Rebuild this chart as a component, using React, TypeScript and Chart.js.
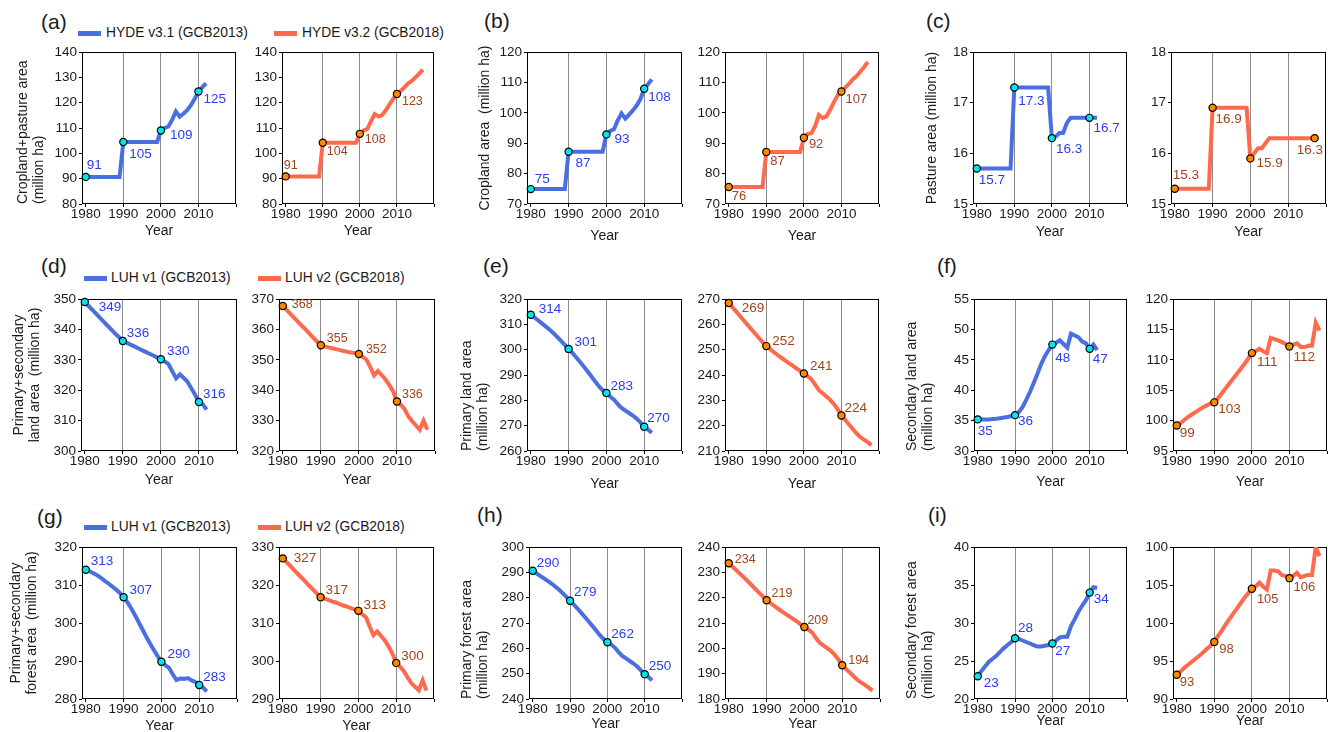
import { useEffect, useRef } from "react";
import { Chart, registerables } from "chart.js";

Chart.register(...registerables);

const FONT = "'Liberation Sans', Arial, Helvetica, sans-serif";

// ---------- categories ----------
const YEARS_GCB2013 = [
  1980, 1981, 1982, 1983, 1984, 1985, 1986, 1987, 1988, 1989,
  1990, 1991, 1992, 1993, 1994, 1995, 1996, 1997, 1998, 1999,
  2000, 2001, 2002, 2003, 2004, 2005, 2006, 2007, 2008, 2009,
  2010, 2011, 2012,
];
const YEARS_HYDE32 = [
  1980, 1981, 1982, 1983, 1984, 1985, 1986, 1987, 1988, 1989,
  1990, 1991, 1992, 1993, 1994, 1995, 1996, 1997, 1998, 1999,
  2000, 2001, 2002, 2003, 2004, 2005, 2006, 2007, 2008, 2009,
  2010, 2011, 2012, 2013, 2014, 2015, 2016, 2017,
];
const YEARS_LUH2 = [
  1980, 1981, 1982, 1983, 1984, 1985, 1986, 1987, 1988, 1989,
  1990, 1991, 1992, 1993, 1994, 1995, 1996, 1997, 1998, 1999,
  2000, 2001, 2002, 2003, 2004, 2005, 2006, 2007, 2008, 2009,
  2010, 2011, 2012, 2013, 2014, 2015, 2016, 2017, 2018,
];

const X_MIN = 1979;
const X_MAX = 2020;
const X_TICKS = [1980, 1990, 2000, 2010, 2020];
const X_TICK_LABELS = ["1980", "1990", "2000", "2010", ""];
const GRID_YEARS = [1990, 2000, 2010];
const DECADE_MARKS = [1980, 1990, 2000, 2010];
const C_HYDE32_MARKS = [1980, 1990, 2000, 2017];

const LEGEND_HYDE = ["HYDE v3.1 (GCB2013)", "HYDE v3.2 (GCB2018)"];
const LEGEND_LUH = ["LUH v1 (GCB2013)", "LUH v2 (GCB2018)"];

// ---------- (a) cropland + pasture ----------
const A_HYDE31 = [
  90.7, 90.7, 90.7, 90.7, 90.7, 90.7, 90.7, 90.7, 90.7, 90.7,
  104.5, 104.5, 104.5, 104.5, 104.5, 104.5, 104.5, 104.5, 104.5, 104.5,
  109.0, 110.0, 110.6, 113.2, 116.5, 114.5, 115.6, 117.0, 119.0, 121.5,
  124.4, 126.0, 127.6,
];
const A_HYDE32 = [
  90.9, 90.9, 90.9, 90.9, 90.9, 90.9, 90.9, 90.9, 90.9, 90.9,
  104.2, 104.2, 104.2, 104.2, 104.2, 104.2, 104.2, 104.2, 104.2, 104.2,
  107.7, 109.0, 109.6, 112.6, 115.5, 114.6, 115.1, 117.0, 119.3, 121.5,
  123.4, 124.6, 126.0, 127.6, 128.6, 130.0, 131.5, 133.0,
];
const A_HYDE31_LABELS = ["91", "105", "109", "125"];
const A_HYDE32_LABELS = ["91", "104", "108", "123"];
const A_Y_TICKS = [80, 90, 100, 110, 120, 130, 140];

// ---------- (b) cropland ----------
const B_HYDE31 = [
  74.9, 74.9, 74.9, 74.9, 74.9, 74.9, 74.9, 74.9, 74.9, 74.9,
  87.2, 87.2, 87.2, 87.2, 87.2, 87.2, 87.2, 87.2, 87.2, 87.2,
  92.9, 94.0, 94.6, 97.5, 99.8, 98.1, 99.4, 100.8, 102.4, 104.5,
  107.9, 109.4, 111.0,
];
const B_HYDE32 = [
  75.6, 75.6, 75.6, 75.6, 75.6, 75.6, 75.6, 75.6, 75.6, 75.6,
  87.1, 87.1, 87.1, 87.1, 87.1, 87.1, 87.1, 87.1, 87.1, 87.1,
  91.8, 93.0, 93.3, 95.6, 99.3, 98.3, 98.8, 101.0, 103.5, 105.8,
  107.0, 108.3, 109.5, 111.0, 112.0, 113.5, 115.0, 116.7,
];
const B_HYDE31_LABELS = ["75", "87", "93", "108"];
const B_HYDE32_LABELS = ["76", "87", "92", "107"];
const B_Y_TICKS = [70, 80, 90, 100, 110, 120];

// ---------- (c) pasture ----------
const C_HYDE31 = [
  15.7, 15.7, 15.7, 15.7, 15.7, 15.7, 15.7, 15.7, 15.7, 15.7,
  17.3, 17.3, 17.3, 17.3, 17.3, 17.3, 17.3, 17.3, 17.3, 17.3,
  16.3, 16.33, 16.4, 16.4, 16.6, 16.7, 16.7, 16.7, 16.7, 16.7,
  16.7, 16.7, 16.7,
];
const C_HYDE32 = [
  15.3, 15.3, 15.3, 15.3, 15.3, 15.3, 15.3, 15.3, 15.3, 15.3,
  16.9, 16.9, 16.9, 16.9, 16.9, 16.9, 16.9, 16.9, 16.9, 16.9,
  15.9, 16.0, 16.1, 16.1, 16.2, 16.3, 16.3, 16.3, 16.3, 16.3,
  16.3, 16.3, 16.3, 16.3, 16.3, 16.3, 16.3, 16.3,
];
const C_HYDE31_LABELS = ["15.7", "17.3", "16.3", "16.7"];
const C_HYDE32_LABELS = ["15.3", "16.9", "15.9", "16.3"];
const C_Y_TICKS = [15, 16, 17, 18];

// ---------- (d) primary + secondary land ----------
const D_LUH1 = [
  349.0, 347.7, 346.4, 345.1, 343.8, 342.5, 341.2, 339.9, 338.6, 337.4,
  336.2, 335.6, 335.0, 334.4, 333.8, 333.2, 332.6, 332.0, 331.4, 330.8,
  330.2, 329.5, 328.6, 326.2, 323.9, 325.2, 324.0, 322.8, 320.6, 318.5,
  316.1, 315.4, 313.6,
];
const D_LUH2 = [
  367.7, 366.4, 365.1, 363.8, 362.5, 361.2, 359.9, 358.6, 357.3, 356.0,
  354.8, 354.4, 354.1, 353.8, 353.5, 353.2, 352.9, 352.6, 352.4, 352.2,
  351.9, 351.0, 350.0, 347.6, 344.9, 346.3, 345.0, 343.5, 341.7, 339.6,
  336.3, 335.2, 333.8, 331.4, 329.8, 328.4, 327.0, 330.0, 327.0,
];
const D_LUH1_LABELS = ["349", "336", "330", "316"];
const D_LUH2_LABELS = ["368", "355", "352", "336"];
const D_LUH1_Y_TICKS = [300, 310, 320, 330, 340, 350];
const D_LUH2_Y_TICKS = [320, 330, 340, 350, 360, 370];

// ---------- (e) primary land ----------
const E_LUH1 = [
  313.8, 312.7, 311.5, 310.3, 309.1, 307.9, 306.5, 305.0, 303.5, 301.9,
  300.3, 298.7, 297.0, 295.2, 293.4, 291.5, 289.5, 287.5, 285.6, 284.0,
  282.9, 281.5, 280.3, 278.5, 277.0, 276.0, 275.0, 274.0, 272.8, 271.3,
  269.6, 268.5, 267.2,
];
const E_LUH2 = [
  268.4, 266.7, 265.0, 263.3, 261.5, 259.8, 258.1, 256.4, 254.7, 253.0,
  251.4, 250.2, 249.0, 247.9, 246.8, 245.8, 244.7, 243.7, 242.6, 241.6,
  240.6, 239.6, 238.3, 236.2, 234.0, 232.8, 231.5, 230.2, 228.5, 226.5,
  224.0, 222.3, 220.5, 218.7, 217.0, 215.5, 214.5, 213.5, 212.3,
];
const E_LUH1_LABELS = ["314", "301", "283", "270"];
const E_LUH2_LABELS = ["269", "252", "241", "224"];
const E_LUH1_Y_TICKS = [260, 270, 280, 290, 300, 310, 320];
const E_LUH2_Y_TICKS = [210, 220, 230, 240, 250, 260, 270];

// ---------- (f) secondary land ----------
const F_LUH1 = [
  35.2, 35.2, 35.2, 35.2, 35.25, 35.3, 35.4, 35.5, 35.6, 35.75,
  35.9, 36.4, 37.2, 38.4, 39.7, 41.2, 42.7, 44.3, 45.6, 46.6,
  47.5, 47.8, 48.2, 47.6, 47.0, 49.3, 49.0, 48.7, 48.0, 47.7,
  46.8, 47.5, 46.6,
];
const F_LUH2 = [
  99.2, 99.6, 100.1, 100.6, 101.0, 101.4, 101.8, 102.2, 102.5, 102.8,
  103.0, 103.7, 104.5, 105.3, 106.1, 106.9, 107.7, 108.5, 109.3, 110.2,
  111.1, 111.4, 111.8, 111.4, 111.1, 113.6, 113.4, 113.2, 112.9, 112.6,
  112.2, 112.5, 112.7, 112.1, 112.1, 112.3, 112.3, 116.1, 114.8,
];
const F_LUH1_LABELS = ["35", "36", "48", "47"];
const F_LUH2_LABELS = ["99", "103", "111", "112"];
const F_LUH1_Y_TICKS = [30, 35, 40, 45, 50, 55];
const F_LUH2_Y_TICKS = [95, 100, 105, 110, 115, 120];

// ---------- (g) primary + secondary forest ----------
const G_LUH1 = [
  314.0, 313.6, 313.1, 312.6, 311.9, 311.1, 310.4, 309.6, 308.8, 307.9,
  306.8, 305.5, 303.9, 302.1, 300.2, 298.3, 296.4, 294.6, 292.9, 291.3,
  289.8, 288.9, 288.2, 286.5, 285.0, 285.4, 285.3, 285.5, 284.9, 284.5,
  283.7, 283.0, 282.0,
];
const G_LUH2 = [
  327.0, 326.0, 325.0, 323.9, 322.9, 321.9, 320.9, 319.8, 318.8, 317.8,
  316.8, 316.4, 316.1, 315.7, 315.4, 315.0, 314.6, 314.3, 313.9, 313.6,
  313.2, 312.3, 311.5, 309.0, 306.8, 307.8, 306.6, 305.4, 303.8, 301.9,
  299.5, 298.5, 297.4, 295.7, 294.2, 293.2, 292.3, 294.9, 292.2,
];
const G_LUH1_LABELS = ["313", "307", "290", "283"];
const G_LUH2_LABELS = ["327", "317", "313", "300"];
const G_LUH1_Y_TICKS = [280, 290, 300, 310, 320];
const G_LUH2_Y_TICKS = [290, 300, 310, 320, 330];

// ---------- (h) primary forest ----------
const H_LUH1 = [
  290.6, 289.6, 288.6, 287.6, 286.6, 285.6, 284.4, 283.2, 281.8, 280.3,
  278.8, 277.3, 275.7, 274.0, 272.3, 270.6, 268.8, 267.0, 265.2, 263.6,
  262.4, 261.5, 260.3, 258.5, 257.0, 256.0, 255.0, 254.0, 252.8, 251.3,
  249.8, 248.7, 247.4,
];
const H_LUH2 = [
  233.6, 232.2, 230.8, 229.4, 228.0, 226.5, 225.0, 223.5, 222.0, 220.5,
  219.0, 217.9, 216.8, 215.7, 214.6, 213.6, 212.6, 211.6, 210.6, 209.5,
  208.4, 207.5, 206.3, 204.2, 202.3, 201.2, 200.1, 199.0, 197.5, 195.6,
  193.3, 191.8, 190.5, 189.0, 187.6, 186.5, 185.6, 184.5, 183.3,
];
const H_LUH1_LABELS = ["290", "279", "262", "250"];
const H_LUH2_LABELS = ["234", "219", "209", "194"];
const H_LUH1_Y_TICKS = [240, 250, 260, 270, 280, 290, 300];
const H_LUH2_Y_TICKS = [180, 190, 200, 210, 220, 230, 240];

// ---------- (i) secondary forest ----------
const I_LUH1 = [
  23.0, 23.7, 24.3, 24.9, 25.3, 25.7, 26.2, 26.7, 27.1, 27.5,
  28.0, 27.9, 27.7, 27.5, 27.3, 27.1, 26.9, 26.9, 27.0, 27.1,
  27.3, 27.7, 28.1, 28.2, 28.2, 29.6, 30.5, 31.5, 32.3, 33.0,
  34.0, 34.7, 34.6,
];
const I_LUH2 = [
  93.2, 93.6, 94.1, 94.5, 94.9, 95.3, 95.7, 96.1, 96.6, 97.0,
  97.5, 98.3, 99.0, 99.8, 100.5, 101.2, 101.9, 102.6, 103.3, 103.9,
  104.5, 104.8, 105.3, 104.8, 104.4, 106.9, 106.9, 106.8, 106.3, 106.2,
  105.9, 106.2, 106.6, 106.0, 106.2, 106.3, 106.3, 110.0, 108.8,
];
const I_LUH1_LABELS = ["23", "28", "27", "34"];
const I_LUH2_LABELS = ["93", "98", "105", "106"];
const I_LUH1_Y_TICKS = [20, 25, 30, 35, 40];
const I_LUH2_Y_TICKS = [90, 95, 100, 105, 110];
const I_LUH2_Y_TICK_LABELS = ["90", "95", "100", "105", "100"];

// ---------- styles ----------
const OLD_STYLE = { line: "#4a6fe0", marker: "#00e5ee", text: "#2b3cf2" };
const NEW_STYLE = { line: "#ff6a4f", marker: "#ff8a00", text: "#a0441c" };

type Spec = {
  id: string;
  label: string;
  years: number[];
  values: number[];
  markYears: number[];
  markTexts: string[];
  yTicks: number[];
  yTickLabels?: string[];
  yTitle?: string | string[];
  yTitleX?: number;
  yTitleAlign?: string;
  isNew: boolean;
  left: number;
  top: number;
  w: number;
  h: number;
  yearGap: number;
  offsets: number[][];
  labelSize: number;
};

const ROW1 = 52;
const ROW2 = 299;
const ROW3 = 547;
const PH = 152;

const SPECS: Spec[] = [
  // (a)
  { id: "aL", label: LEGEND_HYDE[0], years: YEARS_GCB2013, values: A_HYDE31, markYears: DECADE_MARKS, markTexts: A_HYDE31_LABELS, yTicks: A_Y_TICKS, yTitle: ["Cropland+pasture area", "(million ha)"], yTitleX: 23, yTitleAlign: "start", isNew: false, left: 82, top: ROW1, w: 154, h: PH, yearGap: 28, offsets: [[1, -12], [6, 12], [9, 5], [5, 8]], labelSize: 13.5 },
  { id: "aR", label: LEGEND_HYDE[1], years: YEARS_HYDE32, values: A_HYDE32, markYears: DECADE_MARKS, markTexts: A_HYDE32_LABELS, yTicks: A_Y_TICKS, isNew: true, left: 282, top: ROW1, w: 152, h: PH, yearGap: 28, offsets: [[-2, -11], [4, 9], [5, 6], [5, 7]], labelSize: 12.5 },
  // (b)
  { id: "bL", label: LEGEND_HYDE[0], years: YEARS_GCB2013, values: B_HYDE31, markYears: DECADE_MARKS, markTexts: B_HYDE31_LABELS, yTicks: B_Y_TICKS, yTitle: "Cropland area  (million ha)", yTitleX: 485, isNew: false, left: 527, top: ROW1, w: 155, h: PH, yearGap: 33, offsets: [[4, -10], [7, 12], [8, 5], [4, 8]], labelSize: 13.5 },
  { id: "bR", label: LEGEND_HYDE[1], years: YEARS_HYDE32, values: B_HYDE32, markYears: DECADE_MARKS, markTexts: B_HYDE32_LABELS, yTicks: B_Y_TICKS, isNew: true, left: 725, top: ROW1, w: 154, h: PH, yearGap: 33, offsets: [[3, 9], [4, 9], [5, 7], [4, 8]], labelSize: 13 },
  // (c)
  { id: "cL", label: LEGEND_HYDE[0], years: YEARS_GCB2013, values: C_HYDE31, markYears: DECADE_MARKS, markTexts: C_HYDE31_LABELS, yTicks: C_Y_TICKS, yTitle: "Pasture area (million ha)", yTitleX: 932, isNew: false, left: 973, top: ROW1, w: 154, h: PH, yearGap: 29, offsets: [[2, 12], [4, 14], [4, 11], [4, 10]], labelSize: 13.5 },
  { id: "cR", label: LEGEND_HYDE[1], years: YEARS_HYDE32, values: C_HYDE32, markYears: C_HYDE32_MARKS, markTexts: C_HYDE32_LABELS, yTicks: C_Y_TICKS, isNew: true, left: 1171, top: ROW1, w: 155, h: PH, yearGap: 29, offsets: [[-2, -14], [3, 12], [6, 5], [-18, 12]], labelSize: 13.5 },
  // (d)
  { id: "dL", label: LEGEND_LUH[0], years: YEARS_GCB2013, values: D_LUH1, markYears: DECADE_MARKS, markTexts: D_LUH1_LABELS, yTicks: D_LUH1_Y_TICKS, yTitle: ["Primary+secondary", "land area  (million ha)"], yTitleX: 19.5, isNew: false, left: 81, top: ROW2, w: 156, h: PH, yearGap: 30, offsets: [[14, 5], [4, -8], [6, -8], [4, -8]], labelSize: 13.5 },
  { id: "dR", label: LEGEND_LUH[1], years: YEARS_LUH2, values: D_LUH2, markYears: DECADE_MARKS, markTexts: D_LUH2_LABELS, yTicks: D_LUH2_Y_TICKS, isNew: true, left: 279, top: ROW2, w: 156, h: PH, yearGap: 30, offsets: [[9, -1], [6, -7], [7, -4], [5, -7]], labelSize: 12.5 },
  // (e)
  { id: "eL", label: LEGEND_LUH[0], years: YEARS_GCB2013, values: E_LUH1, markYears: DECADE_MARKS, markTexts: E_LUH1_LABELS, yTicks: E_LUH1_Y_TICKS, yTitle: ["Primary land area", "(million ha)"], yTitleX: 467.5, yTitleAlign: "start", isNew: false, left: 527, top: ROW2, w: 155, h: PH, yearGap: 34, offsets: [[8, -5], [6, -7], [4, -7], [3, -8]], labelSize: 13.5 },
  { id: "eR", label: LEGEND_LUH[1], years: YEARS_LUH2, values: E_LUH2, markYears: DECADE_MARKS, markTexts: E_LUH2_LABELS, yTicks: E_LUH2_Y_TICKS, isNew: true, left: 725, top: ROW2, w: 154, h: PH, yearGap: 34, offsets: [[13, 5], [6, -5], [6, -7], [3, -7]], labelSize: 13.5 },
  // (f)
  { id: "fL", label: LEGEND_LUH[0], years: YEARS_GCB2013, values: F_LUH1, markYears: DECADE_MARKS, markTexts: F_LUH1_LABELS, yTicks: F_LUH1_Y_TICKS, yTitle: ["Secondary land area", "(million ha)"], yTitleX: 912.5, yTitleAlign: "start", isNew: false, left: 974, top: ROW2, w: 153, h: PH, yearGap: 32, offsets: [[0, 12], [3, 6], [3, 14], [3, 10]], labelSize: 13.5 },
  { id: "fR", label: LEGEND_LUH[1], years: YEARS_LUH2, values: F_LUH2, markYears: DECADE_MARKS, markTexts: F_LUH2_LABELS, yTicks: F_LUH2_Y_TICKS, isNew: true, left: 1173, top: ROW2, w: 154, h: PH, yearGap: 32, offsets: [[3, 8], [4, 7], [5, 9], [4, 11]], labelSize: 13.5 },
  // (g)
  { id: "gL", label: LEGEND_LUH[0], years: YEARS_GCB2013, values: G_LUH1, markYears: DECADE_MARKS, markTexts: G_LUH1_LABELS, yTicks: G_LUH1_Y_TICKS, yTitle: ["Primary+secondary", "forest area  (million ha)"], yTitleX: 16, isNew: false, left: 82, top: ROW3, w: 155, h: PH, yearGap: 28, offsets: [[5, -9], [6, -7], [6, -7], [4, -8]], labelSize: 13.5 },
  { id: "gR", label: LEGEND_LUH[1], years: YEARS_LUH2, values: G_LUH2, markYears: DECADE_MARKS, markTexts: G_LUH2_LABELS, yTicks: G_LUH2_Y_TICKS, isNew: true, left: 279, top: ROW3, w: 155, h: PH, yearGap: 28, offsets: [[11, 0], [5, -7], [5, -6], [5, -7]], labelSize: 13.5 },
  // (h)
  { id: "hL", label: LEGEND_LUH[0], years: YEARS_GCB2013, values: H_LUH1, markYears: DECADE_MARKS, markTexts: H_LUH1_LABELS, yTicks: H_LUH1_Y_TICKS, yTitle: ["Primary forest area", "(million ha)"], yTitleX: 467.5, yTitleAlign: "start", isNew: false, left: 529, top: ROW3, w: 153, h: PH, yearGap: 25.6, offsets: [[4, -8], [4, -8], [4, -8], [4, -8]], labelSize: 13.5 },
  { id: "hR", label: LEGEND_LUH[1], years: YEARS_LUH2, values: H_LUH2, markYears: DECADE_MARKS, markTexts: H_LUH2_LABELS, yTicks: H_LUH2_Y_TICKS, isNew: true, left: 725, top: ROW3, w: 155, h: PH, yearGap: 25.6, offsets: [[6, -4], [5, -7], [3, -7], [6, -5]], labelSize: 12.5 },
  // (i)
  { id: "iL", label: LEGEND_LUH[0], years: YEARS_GCB2013, values: I_LUH1, markYears: DECADE_MARKS, markTexts: I_LUH1_LABELS, yTicks: I_LUH1_Y_TICKS, yTitle: ["Secondary forest area", "(million ha)"], yTitleX: 912.5, yTitleAlign: "start", isNew: false, left: 974, top: ROW3, w: 153, h: PH, yearGap: 23, offsets: [[6, 7], [3, -10], [3, 8], [4, 7]], labelSize: 13.5 },
  { id: "iR", label: LEGEND_LUH[1], years: YEARS_LUH2, values: I_LUH2, markYears: DECADE_MARKS, markTexts: I_LUH2_LABELS, yTicks: I_LUH2_Y_TICKS, yTickLabels: I_LUH2_Y_TICK_LABELS, isNew: true, left: 1173, top: ROW3, w: 154, h: PH, yearGap: 23, offsets: [[3, 8], [5, 7], [5, 11], [4, 9]], labelSize: 13 },
];

const PANEL_LETTERS = [
  { text: "(a)", x: 41, cy: 21.5 },
  { text: "(b)", x: 484, cy: 21 },
  { text: "(c)", x: 926, cy: 21 },
  { text: "(d)", x: 41, cy: 266 },
  { text: "(e)", x: 483, cy: 266 },
  { text: "(f)", x: 937, cy: 266 },
  { text: "(g)", x: 37, cy: 517 },
  { text: "(h)", x: 477, cy: 515 },
  { text: "(i)", x: 928, cy: 515 },
];

const LEGEND_ROWS = [
  { y: 33, items: [{ x: 78, tx: 106, text: LEGEND_HYDE[0], isNew: false }, { x: 274, tx: 302, text: LEGEND_HYDE[1], isNew: true }] },
  { y: 278, items: [{ x: 84, tx: 111, text: LEGEND_LUH[0], isNew: false }, { x: 258, tx: 285, text: LEGEND_LUH[1], isNew: true }] },
  { y: 527, items: [{ x: 84, tx: 111, text: LEGEND_LUH[0], isNew: false }, { x: 258, tx: 285, text: LEGEND_LUH[1], isNew: true }] },
];

const PT = 12;
const PR = 8;
const TITLE_LH = 16.25;
const XTITLE_LH = 16.8;
const TICK_SIZE = 13.5;
const TITLE_SIZE = 14;

function PanelChart({ spec }: { spec: Spec }) {
  const ref = useRef<HTMLCanvasElement | null>(null);
  const canvasLeft = spec.yTitle ? Math.round((spec.yTitleX as number) - TITLE_LH / 2) : spec.left - 40;
  const YW = spec.left - canvasLeft;
  const H = Math.round(PT + spec.h + spec.yearGap + XTITLE_LH / 2);
  const XH = H - PT - spec.h;
  const W = YW + spec.w + PR;
  const canvasTop = spec.top - PT;

  useEffect(() => {
    if (!ref.current) return;
    const style = spec.isNew ? NEW_STYLE : OLD_STYLE;
    const lineData = spec.years.map((x, i) => ({ x, y: spec.values[i] }));
    const markData = spec.markYears.map((yr) => ({ x: yr, y: spec.values[spec.years.indexOf(yr)] }));
    const yLabels = spec.yTickLabels || spec.yTicks.map((v) => String(v));

    const framePlugin = {
      id: "frame",
      beforeDatasetsDraw(chart: any) {
        const { ctx, chartArea } = chart;
        ctx.save();
        ctx.strokeStyle = "#000";
        ctx.lineWidth = 1;
        const l = Math.round(chartArea.left) + 0.5;
        const t = Math.round(chartArea.top) + 0.5;
        const r = Math.round(chartArea.right) - 0.5;
        const b = Math.round(chartArea.bottom) - 0.5;
        ctx.strokeRect(l, t, r - l, b - t);
        ctx.restore();
      },
    };
    const labelPlugin = {
      id: "valueLabels",
      afterDatasetsDraw(chart: any) {
        const meta = chart.getDatasetMeta(1);
        const ctx = chart.ctx;
        ctx.save();
        ctx.font = `${spec.labelSize}px ${FONT}`;
        ctx.fillStyle = style.text;
        ctx.textAlign = "left";
        ctx.textBaseline = "middle";
        meta.data.forEach((el: any, i: number) => {
          const off = spec.offsets[i];
          ctx.fillText(spec.markTexts[i], el.x + off[0], el.y + off[1]);
        });
        ctx.restore();
      },
    };

    const tickFont = { family: FONT, size: TICK_SIZE };
    const chart = new Chart(ref.current, {
      type: "line",
      data: {
        datasets: [
          {
            label: spec.label,
            data: lineData,
            borderColor: style.line,
            backgroundColor: style.line,
            borderWidth: 4,
            pointRadius: 0,
            tension: 0,
            order: 2,
          },
          {
            label: spec.label + " markers",
            data: markData,
            showLine: false,
            pointRadius: 3.6,
            pointBackgroundColor: style.marker,
            pointBorderColor: "#000",
            pointBorderWidth: 1.2,
            clip: false,
            order: 1,
          },
        ],
      },
      options: {
        responsive: false,
        animation: false,
        layout: { padding: { top: PT, right: PR, left: 0, bottom: 0 } },
        plugins: {
          legend: { display: false },
          tooltip: { enabled: false },
        },
        scales: {
          x: {
            type: "linear",
            min: X_MIN,
            max: X_MAX,
            afterBuildTicks: (s: any) => {
              s.ticks = X_TICKS.map((v) => ({ value: v }));
            },
            afterFit: (s: any) => {
              s.height = XH;
            },
            ticks: {
              autoSkip: false,
              maxRotation: 0,
              minRotation: 0,
              padding: -1,
              color: "#1a1a1a",
              font: tickFont,
              callback: (v: any) => X_TICK_LABELS[X_TICKS.indexOf(Number(v))],
            },
            grid: {
              color: (c: any) => (c.tick && GRID_YEARS.includes(c.tick.value) ? "#8a8a8a" : "rgba(0,0,0,0)"),
              lineWidth: 1,
              tickColor: "#000",
              tickLength: 3,
            },
            border: { display: false },
            title: {
              display: true,
              text: "Year",
              color: "#1a1a1a",
              font: { family: FONT, size: TITLE_SIZE, lineHeight: 1.2 },
              padding: { top: 0, bottom: 0 },
            },
          },
          y: {
            type: "linear",
            min: spec.yTicks[0],
            max: spec.yTicks[spec.yTicks.length - 1],
            afterBuildTicks: (s: any) => {
              s.ticks = spec.yTicks.map((v) => ({ value: v }));
            },
            afterFit: (s: any) => {
              s.width = YW;
            },
            ticks: {
              padding: 2,
              color: "#1a1a1a",
              font: tickFont,
              callback: (v: any) => yLabels[spec.yTicks.indexOf(Number(v))],
            },
            grid: {
              drawOnChartArea: false,
              tickColor: "#000",
              tickLength: 3,
            },
            border: { display: false },
            title: {
              display: !!spec.yTitle,
              text: spec.yTitle || "",
              align: spec.yTitleAlign || "center",
              color: "#1a1a1a",
              font: { family: FONT, size: TITLE_SIZE, lineHeight: TITLE_LH / TITLE_SIZE },
              padding: { top: 0, bottom: 0 },
            },
          },
        },
      } as any,
      plugins: [framePlugin, labelPlugin],
    });
    return () => chart.destroy();
  }, []);

  return (
    <canvas
      ref={ref}
      width={W}
      height={H}
      style={{ position: "absolute", left: canvasLeft, top: canvasTop, width: W, height: H }}
    />
  );
}

export default function App() {
  return (
    <div
      style={{
        position: "absolute",
        left: 0,
        top: 0,
        width: 1328,
        height: 732,
        overflow: "hidden",
        background: "#fff",
        fontFamily: FONT,
        color: "#1a1a1a",
      }}
    >
      {PANEL_LETTERS.map((p) => (
        <div
          key={p.text}
          style={{ position: "absolute", left: p.x, top: p.cy - 11, fontSize: 21, lineHeight: "22px", whiteSpace: "nowrap" }}
        >
          {p.text}
        </div>
      ))}
      {LEGEND_ROWS.map((row, ri) =>
        row.items.map((it, ii) => (
          <div key={`${ri}-${ii}`}>
            <div
              style={{
                position: "absolute",
                left: it.x,
                top: row.y - 2.5,
                width: 23,
                height: 5,
                background: it.isNew ? NEW_STYLE.line : OLD_STYLE.line,
              }}
            />
            <div
              style={{
                position: "absolute",
                left: it.tx,
                top: row.y - 8,
                fontSize: 13.8,
                lineHeight: "16px",
                whiteSpace: "nowrap",
              }}
            >
              {it.text}
            </div>
          </div>
        ))
      )}
      {SPECS.map((s) => (
        <PanelChart key={s.id} spec={s} />
      ))}
    </div>
  );
}
